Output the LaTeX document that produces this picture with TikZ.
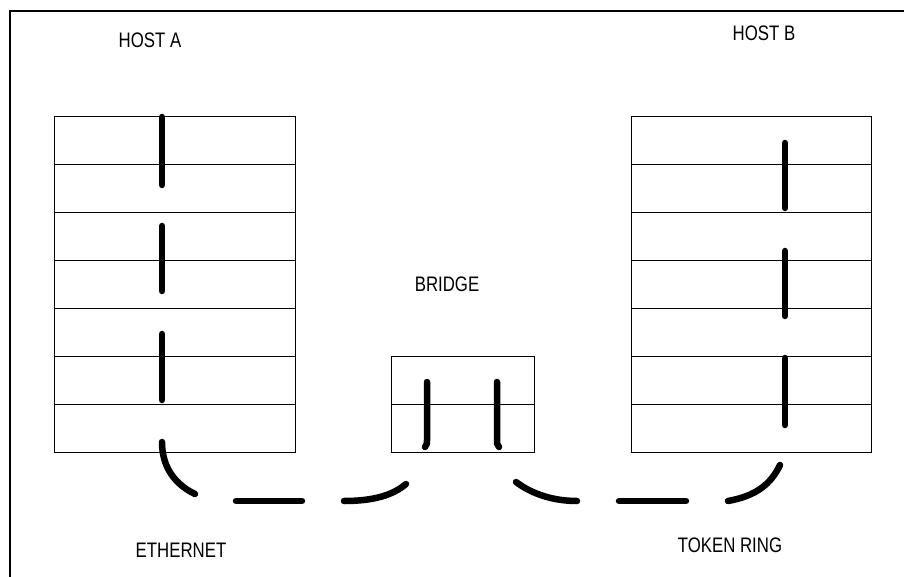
\documentclass[tikz,border=0pt]{standalone}
\usepackage{fontspec}
\setmainfont{Liberation Sans}
\newfontfamily\narrowfont[FakeStretch=0.8]{Liberation Sans}
\begin{document}
\begin{tikzpicture}[x=1pt,y=-1pt,
  layer/.style={draw, line width=1.1pt, minimum width=#1, minimum height=48pt, inner sep=0pt, anchor=north west},
  lbl/.style={font=\narrowfont\fontsize{21}{24}\selectfont, inner sep=0pt},
  wire/.style={line width=6.5pt, line cap=round},
  frame/.style={line width=2pt}]
\useasboundingbox (0,0) rectangle (904,577);
% frame (top and left)
\coordinate (ftr) at (904,11);
\coordinate (ftl) at (10,11);
\coordinate (fbl) at (10,577);
\draw[frame] (ftr) -- (ftl) -- (fbl);
% host A rows
\foreach \i in {1,...,7}{
  \node[layer=241pt] (a\i) at (54,{116+48*(\i-1)}) {};
  \node[layer=240pt] (b\i) at (631,{116+48*(\i-1)}) {};
}
% bridge rows
\node[layer=143pt] (br1) at (391,356) {};
\node[layer=143pt] (br2) at (391,404) {};
% labels
\node[lbl] (hosta) at (150,40) {HOST A};
\node[lbl] (hostb) at (764,33) {HOST B};
\node[lbl] (bridge) at (447,284) {BRIDGE};
\node[lbl] (eth) at (181,550) {ETHERNET};
\node[lbl] (tr) at (730,545) {TOKEN RING};
% host A vertical segments
\coordinate (a1s) at (162,117); \coordinate (a1e) at (162,185);
\coordinate (a2s) at (162,226); \coordinate (a2e) at (162,291);
\coordinate (a3s) at (162,334); \coordinate (a3e) at (162,400);
\draw[wire] (a1s) -- (a1e);
\draw[wire] (a2s) -- (a2e);
\draw[wire] (a3s) -- (a3e);
% host B vertical segments
\coordinate (b1s) at (785,143); \coordinate (b1e) at (785,208);
\coordinate (b2s) at (785,251); \coordinate (b2e) at (785,316);
\coordinate (b3s) at (785,358); \coordinate (b3e) at (785,425);
\draw[wire] (b1s) -- (b1e);
\draw[wire] (b2s) -- (b2e);
\draw[wire] (b3s) -- (b3e);
% bridge vertical segments
\coordinate (p1s) at (427,382); \coordinate (p1m) at (427,440); \coordinate (p1e) at (425,447);
\coordinate (p2s) at (497,382); \coordinate (p2m) at (497,440); \coordinate (p2e) at (499,447);
\draw[wire] (p1s) -- (p1m) .. controls (427,444) .. (p1e);
\draw[wire] (p2s) -- (p2m) .. controls (497,444) .. (p2e);
% ethernet
\coordinate (e1s) at (162,442); \coordinate (e1e) at (195,494);
\coordinate (e2s) at (236,501); \coordinate (e2e) at (302,501);
\coordinate (e3s) at (344,501); \coordinate (e3e) at (406,484);
\draw[wire] (e1s) .. controls (162,468) and (176,485) .. (e1e);
\draw[wire] (e2s) -- (e2e);
\draw[wire] (e3s) .. controls (374,501) and (393,495) .. (e3e);
% token ring
\coordinate (t1s) at (516,482); \coordinate (t1e) at (577,501);
\coordinate (t2s) at (619,501); \coordinate (t2e) at (686,501);
\coordinate (t3s) at (728,501); \coordinate (t3e) at (780,465);
\draw[wire] (t1s) .. controls (532,494) and (553,501) .. (t1e);
\draw[wire] (t2s) -- (t2e);
\draw[wire] (t3s) .. controls (756,496) and (771,484) .. (t3e);
\end{tikzpicture}
\end{document}
